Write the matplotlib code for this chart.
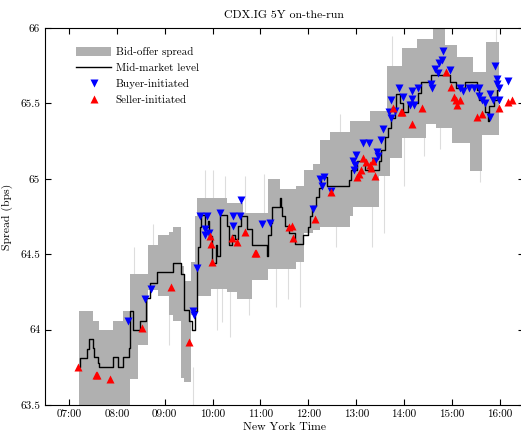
import numpy as np ;
import pandas as pd ;
import matplotlib ;
matplotlib.use("Agg") ;
import matplotlib.pyplot as plt ;
import matplotlib.dates as mdates ;
from matplotlib.patches import Patch ;
from matplotlib.lines import Line2D ;

plt.rcParams['font.family'] = ['cmr10', 'DejaVu Serif'] ;
plt.rcParams['axes.formatter.use_mathtext'] = True ;
plt.rcParams['mathtext.fontset'] = 'cm' ;

## mid-market level (step, post)
mid_times = ["07:12","07:14","07:23","07:25","07:30","07:31","07:36","07:38","07:55","08:02",
             "08:08","08:15","08:16","08:20","08:27","08:29","08:36","08:41","08:50","09:11",
             "09:20","09:24","09:30","09:34","09:38","09:40","09:42","09:44","09:46","09:51",
             "09:54","09:56","09:59","10:04","10:06","10:09","10:18","10:21","10:24","10:28",
             "10:32","10:36","10:43","10:49","11:08","11:10","11:13","11:15","11:24","11:26",
             "11:27","11:31","11:36","11:43","11:53","12:00","12:02","12:05","12:10","12:13",
             "12:16","12:23","12:51","12:54","13:01","13:11","13:29","13:31","13:36","13:40",
             "13:44","13:48","13:50","13:55","13:58","14:05","14:11","14:18","14:21","14:34",
             "14:57","15:05","15:16","15:31","15:34","15:41","15:45","15:46","15:53","15:57",
             "15:59"]
mid_levels = [63.75,63.81,63.87,63.94,63.88,63.82,63.78,63.75,63.82,63.75,
              63.82,63.88,64.12,64.00,64.00,64.06,64.21,64.31,64.38,64.44,
              64.37,64.13,64.06,64.00,64.12,64.42,64.55,64.68,64.76,64.68,
              64.72,64.62,64.44,64.56,64.49,64.76,64.69,64.56,64.63,64.60,
              64.69,64.75,64.67,64.56,64.49,64.63,64.71,64.81,64.87,64.81,
              64.75,64.69,64.64,64.57,64.63,64.68,64.75,64.82,64.88,64.94,
              65.01,64.95,64.99,65.06,65.12,65.06,65.12,65.19,65.28,65.34,
              65.40,65.46,65.56,65.50,65.44,65.51,65.50,65.57,65.64,65.69,
              65.64,65.60,65.64,65.59,65.52,65.44,65.38,65.48,65.52,65.59,
              65.59]

## bid-offer band (step, post)
band_times = ["07:12","07:30","07:38","07:55","08:08","08:16","08:26","08:39","08:52","09:05",
              "09:11","09:20","09:24","09:33","09:38","09:41","09:58","10:18","10:30","10:38",
              "10:50","11:10","11:24","11:44","11:55","12:06","12:14","12:27","12:52","12:56",
              "13:17","13:29","13:38","13:42","13:57","14:16","14:28","14:36","14:40","14:51",
              "15:00","15:06","15:22","15:26","15:38","15:43","15:59"]
band_hi = [64.12,64.06,64.00,64.06,64.12,64.37,64.37,64.56,64.63,64.65,
           64.68,64.42,64.32,64.45,64.75,64.87,64.87,64.84,64.84,64.77,
           64.77,65.00,64.93,64.95,65.06,65.10,65.26,65.31,65.38,65.38,
           65.45,65.45,65.75,65.75,65.87,65.93,65.93,66.05,66.05,65.89,
           65.89,65.81,65.81,65.71,65.71,65.91,65.91]
band_lo = [63.40,63.40,63.40,63.40,63.40,63.67,63.90,64.26,64.22,64.10,
           64.06,63.68,63.65,64.10,64.10,64.22,64.27,64.25,64.20,64.20,
           64.33,64.40,64.40,64.45,64.64,64.66,64.68,64.68,64.75,64.81,
           64.81,65.02,65.02,65.14,65.27,65.27,65.36,65.36,65.34,65.34,
           65.24,65.24,65.05,65.05,65.29,65.29,65.29]

## stray quotes outside the band
spike_times = ["08:22","08:45","09:05","09:35","09:50","10:00","10:05","10:12","10:15","10:22",
               "10:40","10:45","11:05","11:20","11:35","11:50","12:35","12:40","13:20","13:35",
               "13:45","14:00","14:25","14:45","15:35","15:55"]
spike_lo = [64.30,64.50,63.90,63.45,64.85,64.85,64.00,64.05,64.85,63.95,
            64.75,64.10,64.75,64.15,64.20,64.15,64.55,65.25,64.55,64.64,
            65.70,64.95,65.15,65.20,64.98,65.80]
spike_hi = [64.55,64.70,64.25,63.75,65.06,65.06,64.35,64.35,65.02,64.35,
            65.02,64.35,65.03,64.45,64.45,64.50,64.75,65.43,64.85,65.05,
            65.95,65.30,65.35,65.40,65.10,65.99]

## trades
buy_times = ["08:14","08:35","08:43","09:36","09:37","09:41","09:44","09:50","09:51","09:53",
             "09:55","10:09","10:25","10:26","10:34","10:36","11:02","11:12","12:06","12:14",
             "12:17","12:19","12:28","12:56","12:57","12:58","13:00","13:09","13:16","13:24",
             "13:26","13:27","13:31","13:34","13:41","13:44","13:44","13:49","13:53","13:59",
             "14:08","14:10","14:10","14:12","14:18","14:34","14:35","14:39","14:43","14:44",
             "14:47","14:49","14:57","15:10","15:14","15:21","15:28","15:34","15:34","15:38",
             "15:41","15:48","15:48","15:51","15:54","15:56","15:57","15:59","15:59","16:10"]
buy_levels = [64.06,64.20,64.27,64.12,64.10,64.41,64.75,64.63,64.67,64.75,
              64.64,64.77,64.69,64.75,64.75,64.86,64.70,64.71,64.80,65.00,
              64.95,65.01,64.92,65.12,65.06,65.09,65.16,65.24,65.24,65.12,
              65.18,65.15,65.26,65.33,65.44,65.40,65.52,65.45,65.60,65.54,
              65.49,65.58,65.53,65.49,65.60,65.63,65.60,65.73,65.70,65.77,
              65.79,65.85,65.72,65.60,65.58,65.60,65.60,65.60,65.55,65.52,
              65.50,65.56,65.41,65.52,65.75,65.66,65.63,65.60,65.52,65.65]
sell_times = ["07:11","07:34","07:35","07:52","08:31","09:08","09:31","09:57","09:58","09:59",
              "10:24","10:31","10:41","10:53","10:54","11:36","11:39","11:41","12:08","12:29",
              "13:01","13:04","13:06","13:08","13:12","13:17","13:18","13:21","13:24","13:46",
              "13:56","13:57","14:10","14:23","14:53","14:59","15:03","15:05","15:06","15:10",
              "15:31","15:38","15:59","16:10","16:15"]
sell_levels = [63.75,63.70,63.70,63.67,64.01,64.28,63.92,64.62,64.57,64.45,
               64.61,64.58,64.65,64.51,64.51,64.68,64.69,64.61,64.73,64.91,
               65.01,65.03,65.06,65.14,65.11,65.09,65.07,65.12,65.02,65.47,
               65.44,65.44,65.36,65.47,65.71,65.61,65.54,65.52,65.49,65.52,
               65.41,65.43,65.47,65.51,65.52]

# turn "HH:MM" into timestamps on one day
def ts(lst):
  return pd.to_datetime(["2020-01-02 " + t for t in lst]) ;

band_col = "#b0b0b0" ;

fig = plt.figure(figsize=(5.21, 4.33), dpi=100) ;
ax = fig.add_axes([0.0864, 0.0647, 0.919, 0.8707]) ;

ax.vlines(ts(spike_times), spike_lo, spike_hi, color="#dddddd", lw=0.8, zorder=1) ;
ax.fill_between(ts(band_times), band_lo, band_hi, step="post", color=band_col, lw=0, zorder=2) ;
ax.step(ts(mid_times), mid_levels, where="post", color="k", lw=1.0, zorder=3) ;
ax.plot(ts(buy_times), buy_levels, "v", color="blue", ms=5.5, mec="none", ls="none", zorder=4) ;
ax.plot(ts(sell_times), sell_levels, "^", color="red", ms=5.5, mec="none", ls="none", zorder=4) ;

ax.set_xlim(ts(["06:30", "16:30"])) ;
ax.set_ylim(63.5, 66) ;
ax.xaxis.set_major_locator(mdates.HourLocator()) ;
ax.xaxis.set_major_formatter(mdates.DateFormatter("%H:%M")) ;
yt = [63.5, 64, 64.5, 65, 65.5, 66] ;
ax.set_yticks(yt) ;
ax.set_yticklabels(["%g" % v for v in yt]) ;
ax.tick_params(direction="in", top=True, right=True, length=4, labelsize=8) ;

ax.set_title("CDX.IG 5Y on-the-run", fontsize=8.5, pad=7) ;
ax.set_xlabel("New York Time", fontsize=8.5, labelpad=2) ;
ax.set_ylabel("Spread (bps)", fontsize=8.5, labelpad=5) ;

handles = [Patch(facecolor=band_col, edgecolor="none"),
           Line2D([], [], color="k", lw=1.0),
           Line2D([], [], marker="v", color="blue", ms=5.5, mec="none", ls="none"),
           Line2D([], [], marker="^", color="red", ms=5.5, mec="none", ls="none")] ;
labels = ["Bid-offer spread", "Mid-market level", "Buyer-initiated", "Seller-initiated"] ;
ax.legend(handles, labels, loc="upper left", bbox_to_anchor=(0.055, 0.962), frameon=False,
          fontsize=8, handlelength=3.2, handleheight=0.9, labelspacing=0.5, handletextpad=0.4,
          borderaxespad=0) ;

fig.savefig("out.png", dpi=100) ;
